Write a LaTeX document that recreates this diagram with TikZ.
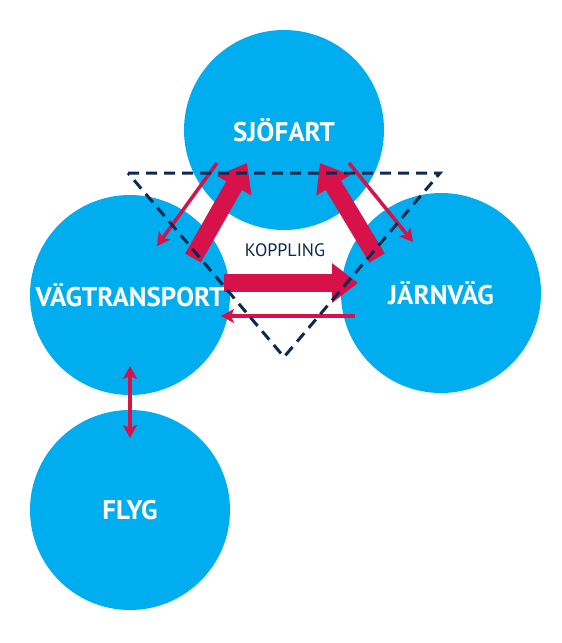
\documentclass[tikz,border=0pt]{standalone}
\usepackage{fontspec}
\setmainfont{PT Sans}
\usetikzlibrary{arrows.meta}

\definecolor{modeblue}{HTML}{00ADEF}
\definecolor{linkred}{HTML}{D7114A}
\definecolor{tridark}{HTML}{0B2A4F}

\begin{document}
\begin{tikzpicture}[
    x=1pt, y=-1pt,
    mode/.style={circle, fill=modeblue, minimum size=200pt, inner sep=0pt, text=white, font=\bfseries\fontsize{27}{30}\selectfont},
    bigarrow/.style={-{Triangle[length=26pt, width=38pt]}, line width=18pt, draw=linkred},
    thinarrow/.style={-{Stealth[length=13pt, width=14pt, inset=3pt]}, line width=3.5pt, draw=linkred},
    twoway/.style={{Stealth[length=13pt, width=14pt, inset=3pt]}-{Stealth[length=13pt, width=14pt, inset=3pt]}, line width=3.5pt, draw=linkred},
    tri/.style={draw=tridark, line width=3pt, dash pattern=on 11pt off 7pt, line join=miter}
]
\useasboundingbox (0,0) rectangle (562,643);

% transport modes
\node[mode] (sjo) at (284,130) {SJÖFART};
\node[mode] (vag) at (130,295) {VÄGTRANSPORT};
\node[mode] (jarn) at (441,293) {JÄRNVÄG};
\node[mode] (flyg) at (130,510) {FLYG};

\node[font=\fontsize{18}{20}\selectfont, text=tridark] (koppling) at (285,250) {KOPPLING};

% arrow ends
\coordinate (vagA) at (193,258);
\coordinate (sjoA) at (247,163);
\coordinate (jarnA) at (377,258);
\coordinate (sjoB) at (320,163);
\coordinate (vagB) at (224,283);
\coordinate (jarnB) at (358,283);
\coordinate (sjoC) at (217,163);
\coordinate (vagC) at (157,246);
\coordinate (sjoD) at (349,163);
\coordinate (jarnD) at (413,242);
\coordinate (jarnE) at (355,316);
\coordinate (vagE) at (221,316);
\coordinate (vagF) at (130,366);
\coordinate (flygF) at (130,438);

\draw[bigarrow] (vagA) -- (sjoA);
\draw[bigarrow] (jarnA) -- (sjoB);
\draw[bigarrow] (vagB) -- (jarnB);
\draw[thinarrow] (sjoC) -- (vagC);
\draw[thinarrow] (sjoD) -- (jarnD);
\draw[thinarrow] (jarnE) -- (vagE);
\draw[twoway] (vagF) -- (flygF);

% coupling triangle
\coordinate (triL) at (128,173);
\coordinate (triR) at (440,173);
\coordinate (triB) at (284,357);
\draw[tri] (triL) -- (triR) -- (triB) -- cycle;
\end{tikzpicture}
\end{document}
